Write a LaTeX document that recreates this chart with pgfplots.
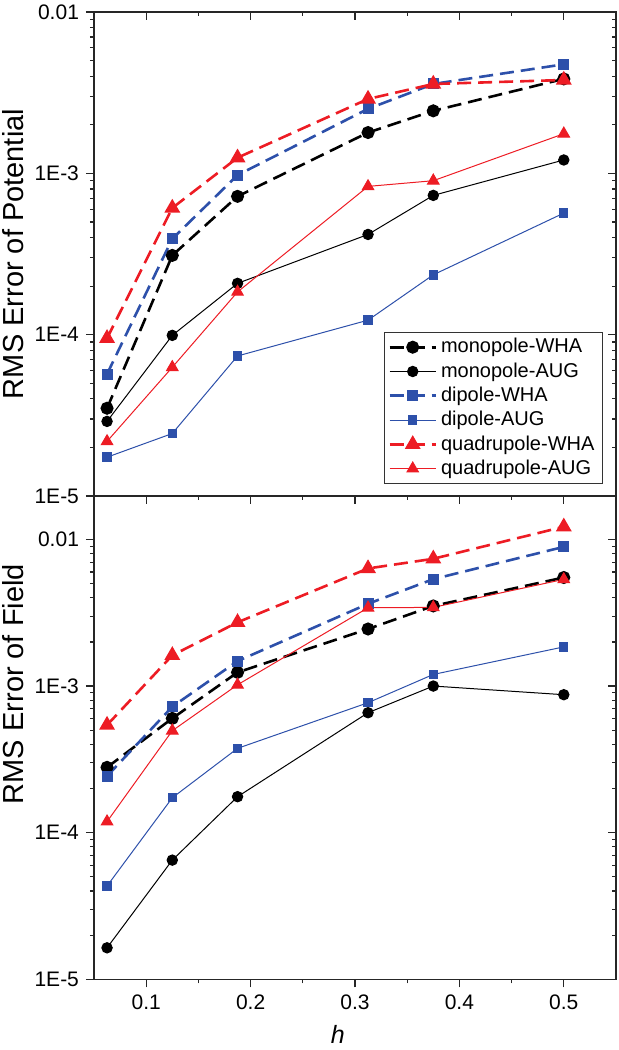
\documentclass[border=0pt]{standalone}
\usepackage{pgfplots}
\pgfplotsset{compat=1.18}
\usepackage{fontspec}
\setmainfont{Liberation Sans}
\definecolor{myblue}{RGB}{45,80,170}
\definecolor{myred}{RGB}{237,28,36}

\pgfplotsset{
  sWHA/.style={line width=1.3pt, dash pattern=on 7pt off 3.5pt, mark options={solid}},
  sAUG/.style={line width=0.5pt, mark options={solid}},
  sMono/.style={black, mark=*, mark size=2.6pt},
  sDip/.style={myblue, mark=square*, mark size=2.1pt},
  sQuad/.style={myred, mark=triangle*, mark size=3.3pt},
}

\begin{document}
\begin{tikzpicture}
% top panel
\begin{axis}[
  scale only axis, width=261pt, height=242pt,
  at={(47pt,277pt)}, anchor=south west,
  xmin=0.05, xmax=0.55, ymode=log, ymin=1e-5, ymax=1e-2,
  xtick={0.1,0.2,0.3,0.4,0.5}, minor x tick num=1, xticklabels={},
  ytick={1e-5,1e-4,1e-3,1e-2}, yticklabels={1E-5,1E-4,1E-3,0.01},
  minor ytick={2e-5,3e-5,4e-5,5e-5,6e-5,7e-5,8e-5,9e-5,2e-4,3e-4,4e-4,5e-4,6e-4,7e-4,8e-4,9e-4,2e-3,3e-3,4e-3,5e-3,6e-3,7e-3,8e-3,9e-3},
  major tick length=4pt, minor tick length=2pt,
  tick align=outside, xtick pos=left, ytick pos=left,
  axis line style={line width=0.7pt, black!85},
  tick style={line width=0.6pt, black!85},
  tick label style={font=\fontsize{10.5}{12}\selectfont},
  ylabel={RMS Error of Potential},
  ylabel style={at={(axis description cs:-0.155,0.5)}, anchor=center, font=\fontsize{14.5}{16}\selectfont},
  legend cell align=left,
  legend image code/.code={\draw[mark repeat=2,mark phase=2,#1] plot coordinates {(0pt,0pt)(11.5pt,0pt)(23pt,0pt)};},
  legend style={at={(0.975,0.025)}, anchor=south east, draw=black!80, line width=0.5pt,
    font=\fontsize{10}{12}\selectfont, row sep=-0.6pt, inner xsep=2pt, inner ysep=1pt},
]
\addplot[sMono, sWHA] coordinates {(0.0625,3.5e-5)(0.125,3.1e-4)(0.1875,7.2e-4)(0.3125,1.79e-3)(0.375,2.44e-3)(0.5,3.85e-3)};
\addlegendentry{monopole-WHA}
\addplot[sMono, sAUG] coordinates {(0.0625,2.9e-5)(0.125,9.9e-5)(0.1875,2.08e-4)(0.3125,4.18e-4)(0.375,7.3e-4)(0.5,1.21e-3)};
\addlegendentry{monopole-AUG}
\addplot[sDip, sWHA] coordinates {(0.0625,5.7e-5)(0.125,3.93e-4)(0.1875,9.75e-4)(0.3125,2.51e-3)(0.375,3.58e-3)(0.5,4.74e-3)};
\addlegendentry{dipole-WHA}
\addplot[sDip, sAUG] coordinates {(0.0625,1.74e-5)(0.125,2.44e-5)(0.1875,7.38e-5)(0.3125,1.23e-4)(0.375,2.35e-4)(0.5,5.67e-4)};
\addlegendentry{dipole-AUG}
\addplot[sQuad, sWHA] coordinates {(0.0625,9.5e-5)(0.125,6.1e-4)(0.1875,1.25e-3)(0.3125,2.89e-3)(0.375,3.58e-3)(0.5,3.79e-3)};
\addlegendentry{quadrupole-WHA}
\addplot[sQuad, sAUG] coordinates {(0.0625,2.18e-5)(0.125,6.28e-5)(0.1875,1.84e-4)(0.3125,8.3e-4)(0.375,9.0e-4)(0.5,1.76e-3)};
\addlegendentry{quadrupole-AUG}
\end{axis}
\begin{axis}[
  scale only axis, width=261pt, height=242pt,
  at={(47pt,277pt)}, anchor=south west,
  xmin=0.05, xmax=0.55, ymode=log, ymin=1e-5, ymax=1e-2,
  xtick={0.1,0.2,0.3,0.4,0.5}, minor x tick num=1, xticklabels={},
  ytick={1e-5,1e-4,1e-3,1e-2}, yticklabels={},
  minor ytick={2e-5,3e-5,4e-5,5e-5,6e-5,7e-5,8e-5,9e-5,2e-4,3e-4,4e-4,5e-4,6e-4,7e-4,8e-4,9e-4,2e-3,3e-3,4e-3,5e-3,6e-3,7e-3,8e-3,9e-3},
  major tick length=4pt, minor tick length=2pt,
  tick align=inside, xtick pos=right, ytick pos=right,
  axis line style={line width=0.7pt, black!85},
  tick style={line width=0.6pt, black!85},
]
\end{axis}

% bottom panel
\begin{axis}[
  scale only axis, width=261pt, height=242pt,
  at={(47pt,35.35pt)}, anchor=south west,
  xmin=0.05, xmax=0.55, ymode=log, ymin=1e-5, ymax=2e-2,
  xtick={0.1,0.2,0.3,0.4,0.5}, minor x tick num=1,
  ytick={1e-5,1e-4,1e-3,1e-2}, yticklabels={1E-5,1E-4,1E-3,0.01},
  minor ytick={2e-5,3e-5,4e-5,5e-5,6e-5,7e-5,8e-5,9e-5,2e-4,3e-4,4e-4,5e-4,6e-4,7e-4,8e-4,9e-4,2e-3,3e-3,4e-3,5e-3,6e-3,7e-3,8e-3,9e-3},
  major tick length=4pt, minor tick length=2pt,
  tick align=outside, xtick pos=left, ytick pos=left,
  axis line style={line width=0.7pt, black!85},
  tick style={line width=0.6pt, black!85},
  tick label style={font=\fontsize{10.5}{12}\selectfont},
  /pgf/number format/assume math mode=true,
  ylabel={RMS Error of Field},
  ylabel style={at={(axis description cs:-0.155,0.61)}, anchor=center, font=\fontsize{14.5}{16}\selectfont},
  xlabel={\textit{h}},
  xlabel style={at={(axis description cs:0.467,-0.113)}, anchor=center, font=\fontsize{12.5}{14}\selectfont},
]
\addplot[sMono, sWHA] coordinates {(0.0625,2.79e-4)(0.125,6.02e-4)(0.1875,1.24e-3)(0.3125,2.45e-3)(0.375,3.52e-3)(0.5,5.5e-3)};
\addplot[sMono, sAUG] coordinates {(0.0625,1.64e-5)(0.125,6.5e-5)(0.1875,1.76e-4)(0.3125,6.58e-4)(0.375,1.0e-3)(0.5,8.73e-4)};
\addplot[sDip, sWHA] coordinates {(0.0625,2.43e-4)(0.125,7.23e-4)(0.1875,1.48e-3)(0.3125,3.64e-3)(0.375,5.36e-3)(0.5,8.9e-3)};
\addplot[sDip, sAUG] coordinates {(0.0625,4.33e-5)(0.125,1.73e-4)(0.1875,3.76e-4)(0.3125,7.7e-4)(0.375,1.2e-3)(0.5,1.85e-3)};
\addplot[sQuad, sWHA] coordinates {(0.0625,5.42e-4)(0.125,1.62e-3)(0.1875,2.72e-3)(0.3125,6.34e-3)(0.375,7.38e-3)(0.5,1.22e-2)};
\addplot[sQuad, sAUG] coordinates {(0.0625,1.19e-4)(0.125,4.96e-4)(0.1875,1.02e-3)(0.3125,3.42e-3)(0.375,3.44e-3)(0.5,5.34e-3)};
\end{axis}
\begin{axis}[
  scale only axis, width=261pt, height=242pt,
  at={(47pt,35.35pt)}, anchor=south west,
  xmin=0.05, xmax=0.55, ymode=log, ymin=1e-5, ymax=2e-2,
  xtick={0.1,0.2,0.3,0.4,0.5}, minor x tick num=1, xticklabels={},
  ytick={1e-5,1e-4,1e-3,1e-2}, yticklabels={},
  minor ytick={2e-5,3e-5,4e-5,5e-5,6e-5,7e-5,8e-5,9e-5,2e-4,3e-4,4e-4,5e-4,6e-4,7e-4,8e-4,9e-4,2e-3,3e-3,4e-3,5e-3,6e-3,7e-3,8e-3,9e-3},
  major tick length=4pt, minor tick length=2pt,
  tick align=inside, xtick pos=right, ytick pos=right,
  axis line style={line width=0.7pt, black!85},
  tick style={line width=0.6pt, black!85},
]
\end{axis}

\pgfresetboundingbox
\path (0pt,0pt) rectangle (309.5pt,525pt);
\end{tikzpicture}
\end{document}
